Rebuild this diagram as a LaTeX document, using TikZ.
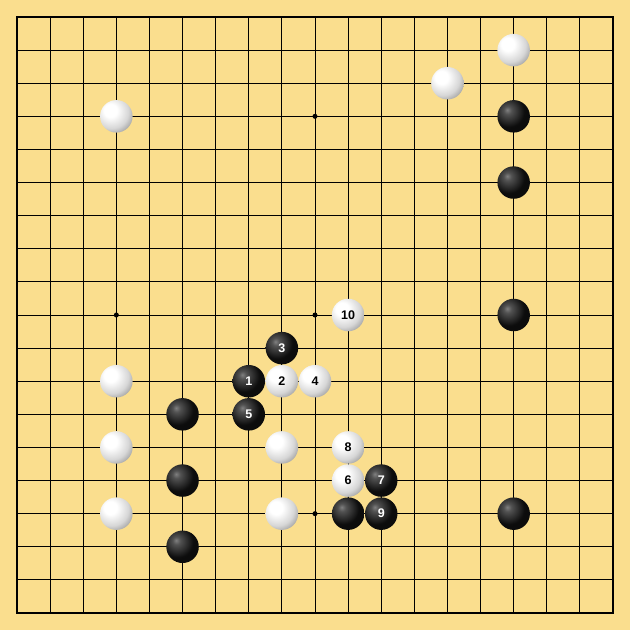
\documentclass[tikz,border=0pt]{standalone}
\usepackage{fontspec}
\setsansfont{Liberation Sans}
\definecolor{boardbg}{RGB}{250,222,142}
\pgfdeclareradialshading{wstone}{\pgfpoint{-10bp}{10bp}}{color(0bp)=(white); color(10bp)=(white); color(26bp)=(black!16); color(36bp)=(black!38); color(100bp)=(black!38)}
\pgfdeclareradialshading{bstone}{\pgfpoint{-10bp}{10bp}}{color(0bp)=(black!50); color(6bp)=(black!68); color(24bp)=(black!95); color(100bp)=(black)}
\tikzset{
  stone/.style={circle, inner sep=0pt, minimum size=32.5pt, shade, font=\sffamily\bfseries\fontsize{12.5}{12.5}\selectfont},
  wst/.style={stone, shading=wstone, text=black},
  bst/.style={stone, shading=bstone, text=white},
  hoshi/.style={circle, fill=black, inner sep=0pt, minimum size=5pt},
  gridline/.style={line width=0.9pt}
}
\begin{document}
\begin{tikzpicture}[x=33.111pt, y=-33.111pt]
\useasboundingbox[fill=boardbg] (-0.5134,-0.5134) rectangle (18.5134,18.5134);
\foreach \k in {1,...,17}{
  \draw[gridline] (\k,0) -- (\k,18);
  \draw[gridline] (0,\k) -- (18,\k);
}
\draw[line width=2pt] (0,0) rectangle (18,18);
\foreach \i in {3,9,15}{\foreach \j in {3,9,15}{\node[hoshi] (h\i-\j) at (\i,\j) {};}}
% white stones
\node[wst] (w1) at (15,1) {};
\node[wst] (w2) at (13,2) {};
\node[wst] (w3) at (3,3) {};
\node[wst] (w4) at (3,11) {};
\node[wst] (w5) at (3,13) {};
\node[wst] (w6) at (8,13) {};
\node[wst] (w7) at (3,15) {};
\node[wst] (w8) at (8,15) {};
\node[wst] (m2) at (8,11) {2};
\node[wst] (m4) at (9,11) {4};
\node[wst] (m6) at (10,14) {6};
\node[wst] (m8) at (10,13) {8};
\node[wst] (m10) at (10,9) {10};
% black stones
\node[bst] (b1) at (15,3) {};
\node[bst] (b2) at (15,5) {};
\node[bst] (b3) at (15,9) {};
\node[bst] (b4) at (5,12) {};
\node[bst] (b5) at (5,14) {};
\node[bst] (b6) at (10,15) {};
\node[bst] (b7) at (15,15) {};
\node[bst] (b8) at (5,16) {};
\node[bst] (m1) at (7,11) {1};
\node[bst] (m3) at (8,10) {3};
\node[bst] (m5) at (7,12) {5};
\node[bst] (m7) at (11,14) {7};
\node[bst] (m9) at (11,15) {9};
\end{tikzpicture}
\end{document}
